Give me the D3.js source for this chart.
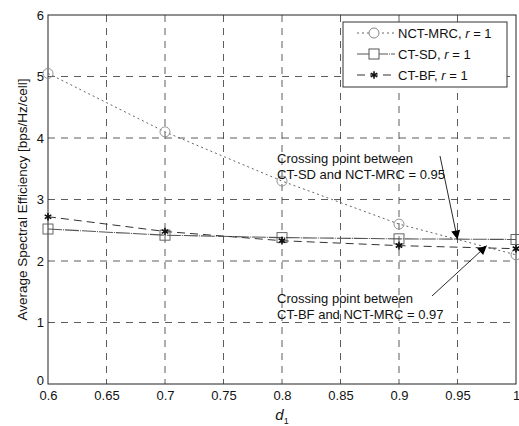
<!DOCTYPE html>
<html>
<head>
<meta charset="utf-8">
<script src="https://cdn.jsdelivr.net/npm/d3@7"></script>
<style>
  body { margin: 0; background: #fff; }
  text { font-family: "Liberation Sans", Arial, sans-serif; fill: #111; }
</style>
</head>
<body>
<script>
var dValues = [0.6, 0.7, 0.8, 0.9, 1.0];
var nctMrc = [5.05, 4.1, 3.3, 2.6, 2.1];
var ctSd = [2.52, 2.42, 2.38, 2.36, 2.35];
var ctBf = [2.72, 2.48, 2.33, 2.25, 2.2];
var xTicks = [0.6, 0.65, 0.7, 0.75, 0.8, 0.85, 0.9, 0.95, 1];
var yTicks = [0, 1, 2, 3, 4, 5, 6];
var seriesNames = ["NCT-MRC", "CT-SD", "CT-BF"];

var margin = {top: 15, right: 3, bottom: 42, left: 48},
    width = 519 - margin.left - margin.right,
    height = 426 - margin.top - margin.bottom;

var x = d3.scaleLinear().domain([0.6, 1]).range([0, width]);
var y = d3.scaleLinear().domain([0, 6]).range([height, 0]);

var svg = d3.select("body").append("svg")
    .attr("width", 519)
    .attr("height", 426)
  .append("g")
    .attr("transform", "translate(" + margin.left + "," + margin.top + ")");

// grid
svg.selectAll(".gx").data(xTicks.slice(1, -1)).enter().append("line")
    .attr("x1", function(d) { return x(d); }).attr("x2", function(d) { return x(d); })
    .attr("y1", 0).attr("y2", height)
    .attr("stroke", "#333").attr("stroke-width", 0.8).attr("stroke-dasharray", "7,6");
svg.selectAll(".gy").data(yTicks.slice(1, -1)).enter().append("line")
    .attr("y1", function(d) { return y(d); }).attr("y2", function(d) { return y(d); })
    .attr("x1", 0).attr("x2", width)
    .attr("stroke", "#333").attr("stroke-width", 0.8).attr("stroke-dasharray", "7,6");

// axes
var xAxis = svg.append("g")
    .attr("transform", "translate(0," + height + ")")
    .call(d3.axisBottom(x).tickValues(xTicks).tickSize(0).tickPadding(7)
      .tickFormat(function(d) { return String(+d.toFixed(2)); }));
var yAxis = svg.append("g")
    .call(d3.axisLeft(y).tickValues(yTicks).tickSize(0).tickPadding(4)
      .tickFormat(d3.format("d")));
[xAxis, yAxis].forEach(function(a) {
  a.select(".domain").remove();
  a.selectAll("text").attr("font-size", "13px").style("font-family", "Liberation Sans, Arial, sans-serif");
});
// lift the "0" a little so it clears the first x label
yAxis.selectAll(".tick text").filter(function(d) { return d === 0; }).attr("dy", "0.05em");

svg.append("rect")
    .attr("width", width).attr("height", height)
    .attr("fill", "none").attr("stroke", "#222").attr("stroke-width", 1);

var line = d3.line()
    .x(function(d, i) { return x(dValues[i]); })
    .y(function(d) { return y(d); });

// series lines
svg.append("path").datum(nctMrc).attr("d", line)
    .attr("fill", "none").attr("stroke", "#666").attr("stroke-width", 1).attr("stroke-dasharray", "2,3");
svg.append("path").datum(ctSd).attr("d", line)
    .attr("fill", "none").attr("stroke", "#555").attr("stroke-width", 1.1).attr("stroke-dasharray", "14,1,1,1");
svg.append("path").datum(ctBf).attr("d", line)
    .attr("fill", "none").attr("stroke", "#333").attr("stroke-width", 1).attr("stroke-dasharray", "8,5");

// markers
svg.selectAll(".mrc").data(nctMrc).enter().append("circle")
    .attr("cx", function(d, i) { return x(dValues[i]); })
    .attr("cy", function(d) { return y(d); })
    .attr("r", 5).attr("fill", "none").attr("stroke", "#888").attr("stroke-width", 0.9);
svg.selectAll(".sd").data(ctSd).enter().append("rect")
    .attr("x", function(d, i) { return x(dValues[i]) - 5; })
    .attr("y", function(d) { return y(d) - 5; })
    .attr("width", 10).attr("height", 10)
    .attr("fill", "none").attr("stroke", "#555").attr("stroke-width", 0.9);
var star = d3.symbol().type(d3.symbolAsterisk).size(40);
svg.selectAll(".bf").data(ctBf).enter().append("path")
    .attr("d", star)
    .attr("transform", function(d, i) { return "translate(" + x(dValues[i]) + "," + y(d) + ")"; })
    .attr("stroke", "#111").attr("stroke-width", 1.6);

// annotations
svg.append("defs").append("marker")
    .attr("id", "arr").attr("viewBox", "0 0 10 10")
    .attr("refX", 10).attr("refY", 5)
    .attr("markerWidth", 12).attr("markerHeight", 9)
    .attr("markerUnits", "userSpaceOnUse")
    .attr("orient", "auto")
  .append("path").attr("d", "M0,0L10,5L0,10z").attr("fill", "#000");

var ann = [
  {lines: ["Crossing point between", "CT-SD and NCT-MRC = 0.95"], tx: 277, ty: 163,
   from: [440, 156], tip: [0.95, 2.35]},
  {lines: ["Crossing point between", "CT-BF and NCT-MRC = 0.97"], tx: 277, ty: 303,
   from: [432, 296], tip: [0.975, 2.25]}
];
ann.forEach(function(a) {
  var t = svg.append("text")
      .attr("x", a.tx - margin.left).attr("y", a.ty - margin.top)
      .attr("font-size", "13px");
  a.lines.forEach(function(s, i) {
    t.append("tspan").attr("x", a.tx - margin.left).attr("dy", i ? 15.5 : 0).text(s);
  });
  svg.append("line")
      .attr("x1", a.from[0] - margin.left).attr("y1", a.from[1] - margin.top)
      .attr("x2", x(a.tip[0])).attr("y2", y(a.tip[1]))
      .attr("stroke", "#111").attr("stroke-width", 0.9)
      .attr("marker-end", "url(#arr)");
});

// legend
var lg = svg.append("g").attr("transform", "translate(" + (343 - margin.left) + "," + (22 - margin.top) + ")");
lg.append("rect").attr("width", 164).attr("height", 65)
    .attr("fill", "#fff").attr("stroke", "#333").attr("stroke-width", 1);
var legStyles = [
  {dash: "2,3", col: "#666"},
  {dash: "14,1,1,1", col: "#555"},
  {dash: "8,5", col: "#333"}
];
seriesNames.forEach(function(name, i) {
  var yy = 11 + i * 21;
  lg.append("line").attr("x1", 14).attr("x2", 52).attr("y1", yy).attr("y2", yy)
      .attr("stroke", legStyles[i].col).attr("stroke-width", 1).attr("stroke-dasharray", legStyles[i].dash);
  if (i === 0) {
    lg.append("circle").attr("cx", 31).attr("cy", yy).attr("r", 5)
        .attr("fill", "#fff").attr("stroke", "#888");
  } else if (i === 1) {
    lg.append("rect").attr("x", 26).attr("y", yy - 5).attr("width", 10).attr("height", 10)
        .attr("fill", "#fff").attr("stroke", "#555");
  } else {
    lg.append("path").attr("d", star).attr("transform", "translate(31," + yy + ")")
        .attr("stroke", "#111").attr("stroke-width", 1.6);
  }
  var t = lg.append("text").attr("x", 55).attr("y", yy + 5).attr("font-size", "13px");
  t.append("tspan").text(name + ", ");
  t.append("tspan").attr("font-style", "italic").text("r");
  t.append("tspan").text(" = 1");
});

// axis titles
var xl = svg.append("text")
    .attr("x", width / 2).attr("y", height + 36)
    .attr("text-anchor", "middle")
    .attr("font-size", "15px");
xl.append("tspan").attr("font-style", "italic").text("d");
xl.append("tspan").attr("font-size", "9px").attr("dy", 4).text("1");

svg.append("text")
    .attr("transform", "rotate(-90)")
    .attr("x", -height / 2).attr("y", -margin.left + 27)
    .attr("text-anchor", "middle")
    .attr("font-size", "13.5px")
    .text("Average Spectral Efficiency [bps/Hz/cell]");
</script>
</body>
</html>
